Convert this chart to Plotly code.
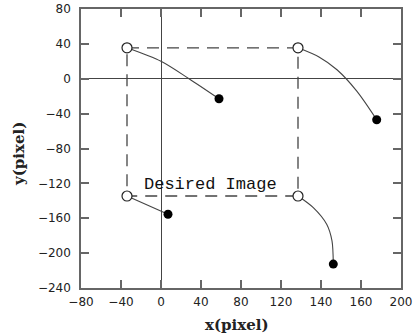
import plotly.graph_objects as go

# Corner points (open circles) of the desired image square
corner_x = [-34, 137, 137, -34]
corner_y = [35.5, 35.5, -134.5, -134.5]

# Observed (filled) end points
end_x = [58, 215.7, 7, 172.3]
end_y = [-23, -47, -155.4, -212.6]

# Curved trajectories from corners to observed points
path_tl_x = [-34, 0, 28, 58]
path_tl_y = [35.5, 20, 0, -23]
path_tr_x = [137, 158, 176, 196, 215.7]
path_tr_y = [35.5, 25, 10.3, -14.5, -47]
path_bl_x = [-34, 7]
path_bl_y = [-134.5, -155.4]
path_br_x = [137, 152.3, 165.7, 171, 172.3]
path_br_y = [-134.5, -147.8, -166.9, -186, -212.6]

x_tickvals = [-80, -40, 0, 40, 80, 120, 160, 200, 240]
x_ticktext = ["\u221280", "\u221240", "0", "40", "80", "120", "140", "160", "200"]
y_tickvals = [-240, -200, -160, -120, -80, -40, 0, 40, 80]

line_col = "#444444"
frame_col = "#666666"

fig = go.Figure()

rect_x = corner_x + [corner_x[0]]
rect_y = corner_y + [corner_y[0]]
fig.add_trace(go.Scatter(x=rect_x, y=rect_y, mode="lines",
                         line=dict(color=line_col, width=1.3, dash="12px,8px"),
                         hoverinfo="skip"))

for px, py in [(path_tl_x, path_tl_y), (path_tr_x, path_tr_y),
               (path_bl_x, path_bl_y), (path_br_x, path_br_y)]:
    fig.add_trace(go.Scatter(x=px, y=py, mode="lines",
                             line=dict(color=line_col, width=1.1, shape="spline", smoothing=0.8),
                             hoverinfo="skip"))

fig.add_trace(go.Scatter(x=corner_x, y=corner_y, mode="markers",
                         marker=dict(symbol="circle", size=10, color="white",
                                     line=dict(color="#222222", width=1.2))))
fig.add_trace(go.Scatter(x=end_x, y=end_y, mode="markers",
                         marker=dict(symbol="circle", size=9, color="black",
                                     line=dict(color="black", width=0))))

fig.add_annotation(x=49, y=-121, xref="x", yref="y", text="Desired Image",
                   showarrow=False,
                   font=dict(family="Liberation Mono", size=17, color="#111111"))

fig.update_layout(
    width=415, height=336,
    margin=dict(l=81, r=14, t=9, b=48),
    paper_bgcolor="white", plot_bgcolor="white",
    showlegend=False,
    font=dict(family="DejaVu Sans", size=12, color="#222222"),
)
fig.add_annotation(x=0.489, y=-0.133, xref="paper", yref="paper", yanchor="middle",
                   text="<b>x(pixel)</b>", showarrow=False,
                   font=dict(family="DejaVu Serif", size=15, color="#222222"))
fig.add_annotation(x=-0.194, y=0.48, xref="paper", yref="paper", textangle=-90,
                   xanchor="center", yanchor="middle",
                   text="<b>y(pixel)</b>", showarrow=False,
                   font=dict(family="DejaVu Serif", size=15, color="#222222"))

fig.update_xaxes(range=[-80, 240], tickvals=x_tickvals, ticktext=x_ticktext,
                 ticks="inside", ticklen=8, tickwidth=1.5, tickcolor=frame_col,
                 showline=True, linecolor=frame_col, linewidth=1.5, mirror="ticks",
                 showgrid=False, zeroline=True, zerolinecolor=line_col, zerolinewidth=1.3,
                 ticklabelstandoff=2, automargin=False)
fig.update_yaxes(range=[-240, 80], tickvals=y_tickvals,
                 ticks="inside", ticklen=8, tickwidth=1.5, tickcolor=frame_col,
                 showline=True, linecolor=frame_col, linewidth=1.5, mirror="ticks",
                 showgrid=False, zeroline=True, zerolinecolor=line_col, zerolinewidth=1.3,
                 ticklabelstandoff=6, automargin=False)

fig.write_html("out.html")
